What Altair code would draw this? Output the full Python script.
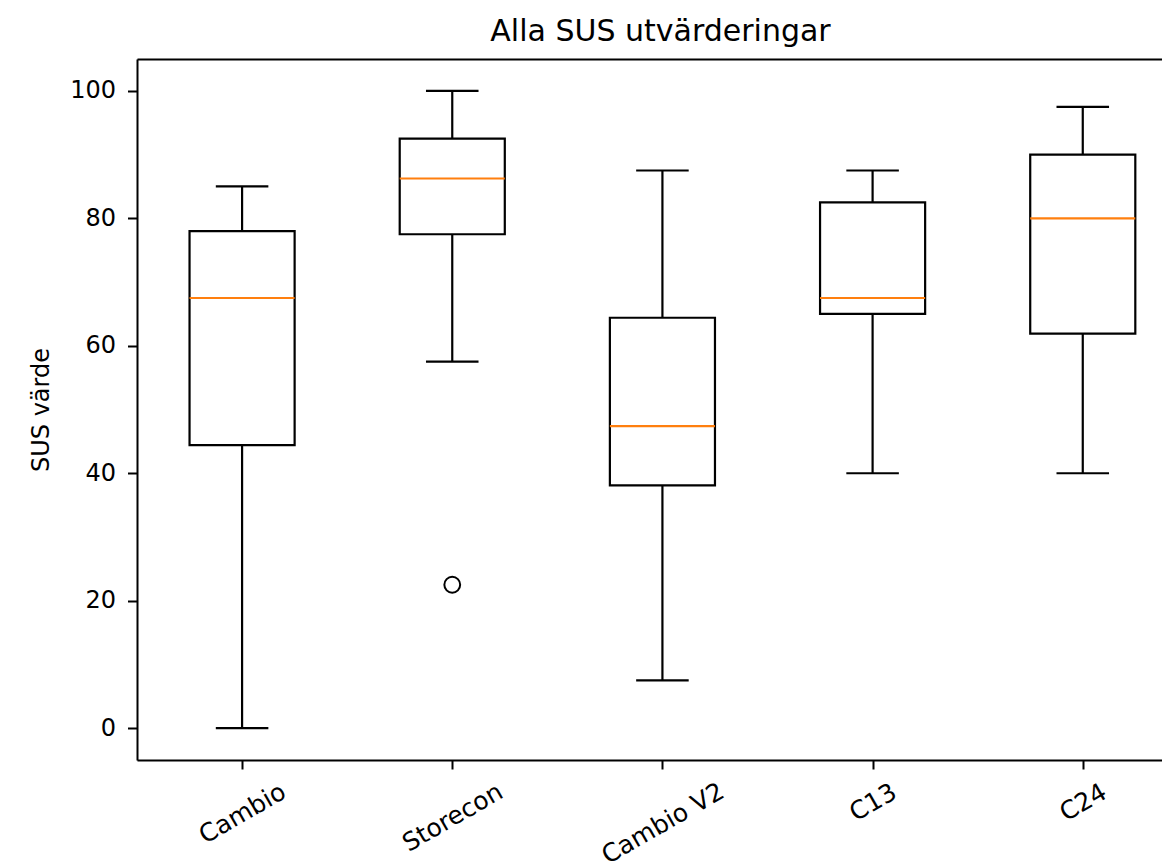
import json
import altair as alt
import pandas as pd

# ---- data ----
categories = ["Cambio", "Storecon", "Cambio V2", "C13", "C24"]
whisker_low = [0.0, 57.5, 7.5, 40.0, 40.0]
q1 = [44.4, 77.5, 38.1, 65.0, 61.9]
median = [67.5, 86.25, 47.4, 67.5, 80.0]
q3 = [78.0, 92.5, 64.4, 82.5, 90.0]
whisker_high = [85.0, 100.0, 87.5, 87.5, 97.5]
outlier_category = ["Storecon"]
outlier_value = [22.5]
y_ticks = [0, 20, 40, 60, 80, 100]

# ---- style ----
FONT = "DejaVu Sans"
label_pad = [44, 48, 54, 33, 33]  # per-label distance for rotated tick labels

positions = list(range(1, len(categories) + 1))
df = pd.DataFrame({
    "category": categories,
    "pos": positions,
    "low": whisker_low,
    "q1": q1,
    "median": median,
    "q3": q3,
    "high": whisker_high,
})
out_df = pd.DataFrame({
    "category": outlier_category,
    "pos": [categories.index(c) + 1 for c in outlier_category],
    "value": outlier_value,
})

xscale = alt.Scale(domain=[0.5, 5.377], nice=False, zero=False)
yscale = alt.Scale(domain=[-5, 105], nice=False, zero=False)

pad_expr = " : ".join(
    f"datum.value == {p} ? {v}" for p, v in zip(positions, label_pad)
) + " : 33"

bottom_axis = alt.Axis(
    values=positions,
    labelExpr=f"{json.dumps(categories)}[datum.value - 1]",
    labelAngle=330,
    labelAlign="center",
    labelBaseline="middle",
    labelPadding={"expr": pad_expr},
    labelFont=FONT,
    labelFontSize=25,
    labelColor="black",
    labelOverlap=False,
    labelFlush=False,
    tickSize=9,
    tickWidth=2,
    tickColor="black",
    domainColor="black",
    domainWidth=2,
    grid=False,
    title=None,
)
top_axis = alt.Axis(
    orient="top",
    labels=False,
    ticks=False,
    domain=True,
    domainColor="black",
    domainWidth=2,
    grid=False,
    title=None,
)
y_axis = alt.Axis(
    values=y_ticks,
    format="d",
    labelFont=FONT,
    labelFontSize=24,
    labelColor="black",
    labelPadding=12,
    tickSize=9.5,
    tickWidth=2,
    tickColor="black",
    domainColor="black",
    domainWidth=2,
    grid=False,
    title="SUS värde",
    titleFont=FONT,
    titleFontSize=24,
    titleFontWeight="normal",
    titleColor="black",
    titlePadding=16,
)


def X(field, axis=None):
    return alt.X(field, type="quantitative", scale=xscale, axis=axis)


def Y(field):
    return alt.Y(field, type="quantitative", scale=yscale, axis=y_axis)


base = alt.Chart(df)
LW = 2.2

lower_whisker = base.mark_rule(color="black", strokeWidth=LW).encode(
    x=X("pos", bottom_axis), y=Y("low"), y2="q1"
)
upper_whisker = base.mark_rule(color="black", strokeWidth=LW).encode(
    x=X("pos", top_axis), y=Y("q3"), y2="high"
)
caps = base.transform_calculate(
    cl="datum.pos - 0.125", cr="datum.pos + 0.125"
)
low_cap = caps.mark_rule(color="black", strokeWidth=LW).encode(
    x=X("cl"), x2="cr", y=Y("low")
)
high_cap = caps.mark_rule(color="black", strokeWidth=LW).encode(
    x=X("cl"), x2="cr", y=Y("high")
)
boxes_base = base.transform_calculate(
    bl="datum.pos - 0.25", br="datum.pos + 0.25"
)
boxes = boxes_base.mark_rect(
    fill="white", fillOpacity=0, stroke="black", strokeWidth=LW
).encode(x=X("bl"), x2="br", y=Y("q1"), y2="q3")
medians = boxes_base.mark_rule(color="#ff7f0e", strokeWidth=LW).encode(
    x=X("bl"), x2="br", y=Y("median")
)
outliers = alt.Chart(out_df).mark_point(
    shape="circle", filled=False, color="black", size=250, strokeWidth=2, opacity=1
).encode(x=X("pos"), y=Y("value"))

chart = (
    alt.layer(lower_whisker, upper_whisker, low_cap, high_cap, boxes, medians, outliers)
    .resolve_axis(x="independent")
    .properties(
        width=1025,
        height=701,
        autosize=alt.AutoSizeParams(type="none"),
        padding={"left": 129, "top": 51, "right": 0, "bottom": 103},
        title=alt.TitleParams(
            "Alla SUS utvärderingar",
            font=FONT,
            fontSize=30,
            fontWeight="normal",
            color="black",
            anchor="middle",
            offset=12,
            dx=11,
        ),
    )
    .configure_view(stroke=None)
    .configure(background="white")
)

chart.save("out.html", embed_options={"renderer": "svg", "actions": False})
